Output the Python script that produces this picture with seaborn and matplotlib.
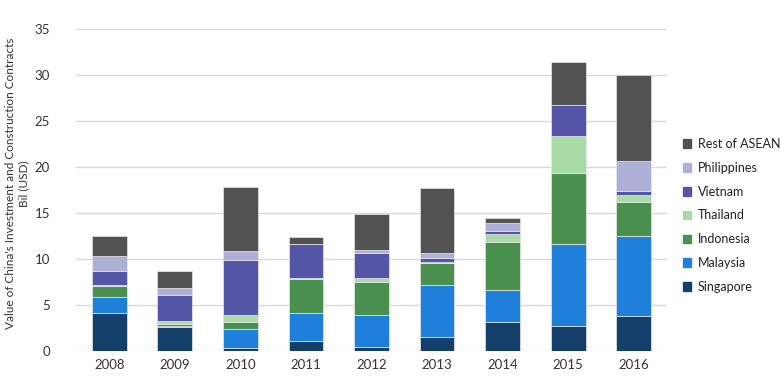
import numpy as np
import matplotlib.pyplot as plt
import seaborn as sns

years = ["2008", "2009", "2010", "2011", "2012", "2013", "2014", "2015", "2016"]
singapore = [4.1, 2.65, 0.3, 1.1, 0.4, 1.52, 3.16, 2.76, 3.81]
malaysia = [1.8, 0.1, 2.1, 3.07, 3.55, 5.7, 3.48, 8.84, 8.74]
indonesia = [1.2, 0.15, 0.8, 3.7, 3.6, 2.36, 5.18, 7.77, 3.66]
thailand = [0.05, 0.4, 0.75, 0.05, 0.39, 0.14, 0.91, 3.95, 0.8]
vietnam = [1.5, 2.8, 5.95, 3.73, 2.66, 0.4, 0.29, 3.45, 0.33]
philippines = [1.65, 0.7, 1.0, 0.0, 0.4, 0.58, 0.94, 0.0, 3.33]
rest = [2.25, 1.95, 6.9, 0.73, 3.87, 7.0, 0.51, 4.68, 9.36]

series = [
    ("Singapore", singapore, "#143f6b"),
    ("Malaysia", malaysia, "#1f80dc"),
    ("Indonesia", indonesia, "#4a9150"),
    ("Thailand", thailand, "#a8dba6"),
    ("Vietnam", vietnam, "#5555a8"),
    ("Philippines", philippines, "#aeb0d8"),
    ("Rest of ASEAN", rest, "#525252"),
]

sns.set_style("white")
plt.rcParams['font.family'] = ['Lato', 'DejaVu Sans']

fig = plt.figure(figsize=(7.8, 3.85), dpi=100)
ax = fig.add_axes([0.098, 0.0883, 0.7565, 0.8364])

bottom = np.zeros(len(years))
for name, vals, col in series:
    sns.barplot(x=years, y=vals, bottom=bottom, color=col, width=0.53,
                saturation=1, label=name, ax=ax, edgecolor="#e8e8e8",
                linewidth=0.5, legend=False)
    bottom += np.array(vals)

ax.set_ylim(0, 35)
ax.set_xlim(-0.5, len(years) - 0.5)
ax.set_yticks(range(0, 36, 5))
ax.yaxis.grid(True, color="#d9d9d9", linewidth=1)
ax.set_axisbelow(True)
for s in ax.spines.values():
    s.set_visible(False)
ax.tick_params(axis="both", length=0, labelsize=9.5, colors="#333333")
ax.tick_params(axis="y", pad=19)
ax.tick_params(axis="x", pad=6)
ax.set_ylabel("")
ax.set_xlabel("")
fig.text(0.022, 0.523,
         "Value of China's Investment and Construction Contracts\nBil (USD)",
         rotation=90, ha="center", va="center", multialignment="center",
         fontsize=8.5, color="#333333", linespacing=1.15)

handles = [plt.Rectangle((0, 0), 1, 1, color=c) for _, _, c in series][::-1]
labels = [n for n, _, _ in series][::-1]
fig.legend(handles, labels, loc="upper left", bbox_to_anchor=(0.875, 0.642),
           frameon=False, fontsize=9, handlelength=0.7, handleheight=0.7,
           handletextpad=0.5, labelspacing=0.95, labelcolor="#222222",
           borderaxespad=0, borderpad=0)

fig.savefig("out.png", dpi=100)
